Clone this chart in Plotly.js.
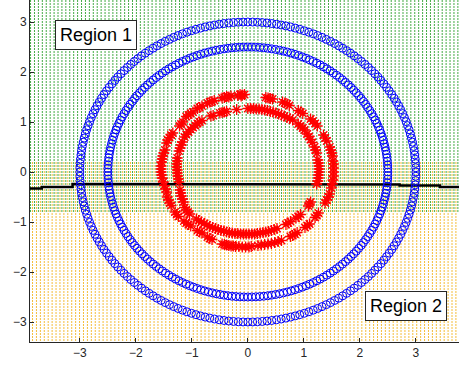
<!DOCTYPE html>
<html>
<head>
<meta charset="utf-8">
<script src="https://cdn.plot.ly/plotly-3.0.1.min.js"></script>
<style>
  html, body { margin: 0; padding: 0; background: #fff; }
  #chart { width: 459px; height: 368px; }
</style>
</head>
<body>
<div id="chart"></div>
<script>
// Axis extents
const xRange = [-3.89, 3.77];
const yRange = [-3.40, 3.44];
const tickValues = [-3, -2, -1, 0, 1, 2, 3];

// Class-1 rings (blue circles): radius of each ring and samples per ring
const ringRadii = [3.0, 2.5];
const ringSamples = 220;

// Class-2 points (red asterisks), outer noisy ring as [x, y]
const redOuter = [
  [-0.06,1.55],[-0.10,1.54],[-0.14,1.55],[-0.18,1.53],[-0.12,1.52],
  [-0.30,1.52],[-0.34,1.50],[-0.38,1.51],[-0.42,1.49],[-0.46,1.48],
  [-0.60,1.43],[-0.64,1.41],[-0.68,1.40],[-0.72,1.38],
  [-0.82,1.32],[-0.86,1.29],[-0.90,1.27],
  [-0.98,1.20],[-1.02,1.17],[-1.06,1.14],[-1.10,1.11],
  [-1.16,1.00],[-1.19,0.96],[-1.22,0.92],
  [-1.34,0.78],[-1.37,0.74],[-1.40,0.69],[-1.43,0.64],[-1.45,0.58],
  [-1.48,0.44],[-1.50,0.38],[-1.52,0.32],[-1.53,0.26],[-1.54,0.20],
  [-1.55,0.12],[-1.55,0.06],[-1.55,0.00],[-1.54,-0.06],[-1.53,-0.12],
  [-1.51,-0.20],[-1.49,-0.27],[-1.47,-0.34],[-1.45,-0.40],
  [-1.44,-0.50],[-1.42,-0.56],[-1.39,-0.62],[-1.37,-0.67],
  [-1.30,-0.80],[-1.27,-0.85],[-1.24,-0.89],
  [-1.14,-0.98],[-1.10,-1.02],[-1.06,-1.05],[-1.02,-1.08],
  [-0.90,-1.17],[-0.86,-1.20],[-0.82,-1.22],
  [-0.72,-1.30],[-0.68,-1.33],[-0.64,-1.35],
  [-0.46,-1.44],[-0.42,-1.45],[-0.38,-1.46],[-0.34,-1.47],[-0.30,-1.48],[-0.26,-1.48],
  [-0.22,-1.49],[-0.16,-1.49],[-0.10,-1.50],[-0.04,-1.50],[0.02,-1.50],[0.06,-1.49],
  [0.18,-1.47],[0.24,-1.46],[0.30,-1.45],[0.36,-1.44],[0.42,-1.43],[0.48,-1.41],[0.54,-1.39],[0.60,-1.37],
  [0.76,-1.29],[0.80,-1.27],[0.84,-1.24],[0.88,-1.21],
  [1.02,-1.11],[1.06,-1.07],[1.10,-1.04],
  [1.20,-0.91],[1.23,-0.87],[1.26,-0.82],
  [1.38,-0.62],[1.41,-0.56],[1.44,-0.50],[1.46,-0.44],
  [1.49,-0.32],[1.51,-0.24],[1.52,-0.16],[1.53,-0.08],[1.53,0.00],[1.53,0.08],[1.53,0.16],[1.52,0.22],
  [1.51,0.32],[1.50,0.38],[1.48,0.44],[1.46,0.50],
  [1.41,0.62],[1.38,0.68],[1.35,0.74],
  [1.24,0.92],[1.20,0.97],[1.16,1.02],[1.12,1.06],
  [0.98,1.17],[0.94,1.20],[0.90,1.23],
  [0.74,1.33],[0.70,1.36],[0.66,1.38],[0.62,1.40],
  [0.44,1.46],[0.40,1.47],[0.36,1.48],[0.32,1.49]
];

// Class-2 points (red asterisks), inner noisy ring as [x, y]
const redInner = [
  [-0.20,1.25],
  [-0.38,1.21],[-0.42,1.20],[-0.46,1.19],[-0.50,1.18],
  [-0.62,1.13],[-0.66,1.12],
  [0.00,1.27],[0.05,1.27],[0.10,1.27],[0.15,1.26],[0.20,1.26],[0.25,1.25],[0.30,1.24],[0.35,1.23],
  [0.40,1.21],[0.45,1.20],[0.50,1.18],[0.55,1.16],[0.60,1.14],[0.65,1.12],[0.70,1.09],[0.75,1.07],[0.80,1.04],
  [0.90,0.96],[0.94,0.92],[0.98,0.88],[1.01,0.84],
  [1.06,0.76],[1.09,0.71],[1.12,0.65],[1.15,0.59],
  [1.19,0.50],[1.21,0.44],[1.23,0.38],
  [1.25,0.24],[1.26,0.18],[1.27,0.12],[1.27,0.06],[1.27,0.00],[1.26,-0.06],[1.26,-0.12],[1.25,-0.18],[1.23,-0.24],
  [1.12,-0.60],[1.10,-0.64],[1.08,-0.68],
  [0.94,-0.85],[0.90,-0.89],[0.86,-0.92],
  [0.76,-0.99],[0.72,-1.02],[0.68,-1.05],
  [0.52,-1.13],[0.47,-1.15],[0.42,-1.17],[0.37,-1.19],[0.32,-1.20],[0.27,-1.21],[0.22,-1.22],[0.17,-1.23],
  [0.12,-1.24],[0.07,-1.24],[0.02,-1.24],[-0.03,-1.24],[-0.08,-1.24],[-0.13,-1.24],[-0.18,-1.23],[-0.23,-1.23],
  [-0.28,-1.22],[-0.33,-1.21],[-0.38,-1.20],[-0.43,-1.18],[-0.48,-1.17],[-0.53,-1.15],[-0.58,-1.13],[-0.63,-1.11],
  [-0.68,-1.09],[-0.73,-1.06],[-0.78,-1.03],[-0.83,-1.00],[-0.88,-0.97],[-0.92,-0.94],
  [-1.04,-0.84],[-1.07,-0.80],[-1.10,-0.76],[-1.13,-0.71],
  [-1.15,-0.60],[-1.17,-0.54],[-1.19,-0.48],[-1.20,-0.42],[-1.21,-0.36],
  [-1.23,-0.20],[-1.24,-0.14],[-1.25,-0.08],[-1.26,-0.02],[-1.26,0.04],[-1.27,0.10],[-1.27,0.16],[-1.26,0.22],[-1.26,0.28],
  [-1.23,0.42],[-1.21,0.48],[-1.19,0.54],[-1.17,0.60],
  [-1.13,0.70],[-1.10,0.75],[-1.06,0.80],[-1.02,0.85],[-0.98,0.89],[-0.94,0.93],[-0.90,0.97],[-0.86,1.00],[-0.82,1.03]
];

// Decision boundary (stepwise)
const boundaryX = [-3.89, -3.68, -3.68, -3.13, -3.13, 1.82, 1.82, 2.71, 2.71, 3.43, 3.43, 3.77];
const boundaryY = [-0.33, -0.33, -0.30, -0.30, -0.24, -0.24, -0.25, -0.25, -0.27, -0.27, -0.30, -0.30];

// Region shading grid: column spacing and the band where both labels overlap
const gridStep = 0.07;
const bandUpper = 0.2;
const bandLower = -0.8;

// Region labels
const regionLabels = ['Region 1', 'Region 2'];
const regionLabelX = [-2.71, 2.83];
const regionLabelY = [2.74, -2.68];

// Shaded mesh as vertical dotted columns; orange columns sit half a step over
const greenX = [], greenY = [], orangeX = [], orangeY = [];
for (let x = xRange[0] + 0.01; x <= xRange[1]; x += gridStep) {
  greenX.push(x, x, null); greenY.push(yRange[1], bandLower, null);
  const xo = x + gridStep / 2;
  orangeX.push(xo, xo, null); orangeY.push(bandUpper, yRange[0], null);
}

// Blue rings
const ringX = [], ringY = [];
ringRadii.forEach(r => {
  for (let k = 0; k < ringSamples; k++) {
    const t = 2 * Math.PI * k / ringSamples;
    ringX.push(r * Math.cos(t));
    ringY.push(r * Math.sin(t));
  }
});

const redPts = redOuter.concat(redInner);

const traces = [
  { x: greenX, y: greenY, mode: 'lines', hoverinfo: 'skip',
    line: { color: 'rgb(70,172,70)', width: 1, dash: '2px,1px' } },
  { x: orangeX, y: orangeY, mode: 'lines', hoverinfo: 'skip',
    line: { color: 'rgb(244,190,60)', width: 1, dash: '2px,1px' } },
  { x: boundaryX, y: boundaryY, mode: 'lines',
    line: { color: '#000000', width: 2.5 } },
  { x: ringX, y: ringY, mode: 'markers',
    marker: { symbol: 'circle-open', size: 8, color: '#0000ff', line: { width: 1, color: '#0000ff' } } },
  { x: redPts.map(p => p[0]), y: redPts.map(p => p[1]), mode: 'markers',
    marker: { symbol: 'asterisk-open', size: 9, color: '#ff0000', line: { width: 1.3, color: '#ff0000' } } }
];

const axisCommon = {
  showgrid: false, zeroline: false, showline: true, linecolor: '#262626', linewidth: 1,
  ticks: 'inside', ticklen: 4, tickcolor: '#262626', tickvals: tickValues,
  tickfont: { family: 'Liberation Sans, Arial, sans-serif', size: 12, color: '#262626' },
  fixedrange: true
};

const layout = {
  width: 459, height: 368,
  margin: { l: 30, r: 0, t: 0, b: 26 },
  paper_bgcolor: '#ffffff', plot_bgcolor: '#ffffff',
  showlegend: false,
  xaxis: Object.assign({}, axisCommon, { range: xRange }),
  yaxis: Object.assign({}, axisCommon, { range: yRange }),
  annotations: regionLabels.map((t, i) => ({
    x: regionLabelX[i], y: regionLabelY[i], xref: 'x', yref: 'y', text: t, showarrow: false,
    font: { family: 'Liberation Sans, Arial, sans-serif', size: 18, color: '#000000' },
    bgcolor: '#ffffff', bordercolor: '#262626', borderwidth: 1, borderpad: 4
  }))
};

Plotly.newPlot('chart', traces, layout, { staticPlot: true, displayModeBar: false });
</script>
</body>
</html>
